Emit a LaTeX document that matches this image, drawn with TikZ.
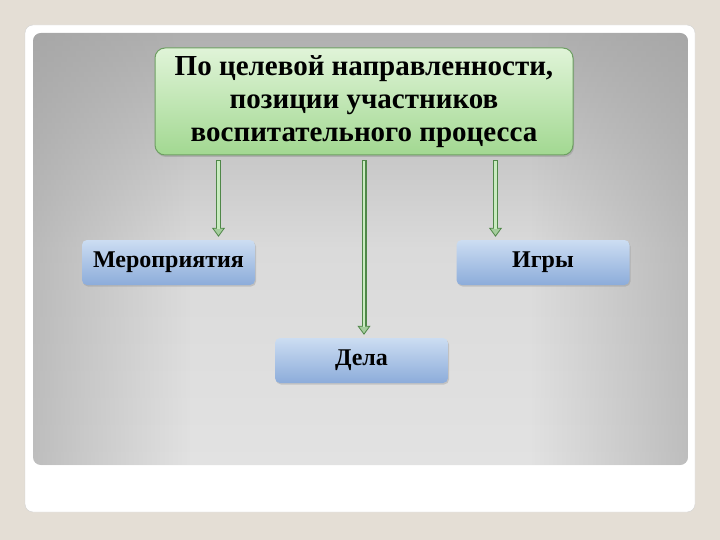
\documentclass[tikz,border=0pt]{standalone}
\usepackage{fontspec}
\setmainfont{Liberation Serif}
\usetikzlibrary{positioning,arrows.meta,shadows,fadings}

\definecolor{bgbeige}{HTML}{E4DED5}
\definecolor{cardedge}{HTML}{D2D2D2}
\definecolor{paneldark}{HTML}{A0A0A0}
\definecolor{paneltop}{HTML}{B0B0B0}
\definecolor{panelmid}{HTML}{DADADA}
\definecolor{panellight}{HTML}{E2E2E2}
\definecolor{headtop}{HTML}{E0F4D8}
\definecolor{headbottom}{HTML}{A2D891}
\definecolor{headedge}{HTML}{6E9F63}
\definecolor{kindtop}{HTML}{CCDDF2}
\definecolor{kindbottom}{HTML}{8CACDA}
\definecolor{arrowdark}{HTML}{4F8748}
\definecolor{arrowlight}{HTML}{C9EBC0}

\tikzset{
    headbox/.style={draw=headedge, line width=1pt, rounded corners=10pt,
        top color=headtop, bottom color=headbottom,
        minimum width=418pt, minimum height=107pt, align=center,
        font=\bfseries\fontsize{29}{33}\selectfont,
        drop shadow={shadow xshift=1pt, shadow yshift=-2pt, opacity=0.35}},
    kindbox/.style={rounded corners=5pt,
        top color=kindtop, bottom color=kindbottom,
        minimum width=173pt, minimum height=45pt, inner sep=0pt,
        font=\bfseries\fontsize{24}{28}\selectfont,
        drop shadow={shadow xshift=1pt, shadow yshift=-1.5pt, opacity=0.3}},
    flow/.style={line width=5pt, draw=arrowdark, shorten <=5pt, shorten >=3pt,
        -{Triangle[length=9pt,width=13pt,line width=0.8pt,fill=arrowlight!70!arrowdark]},
        postaction={draw=arrowlight, line width=2.4pt, -, shorten <=5.5pt, shorten >=11pt}}
}

\begin{document}
\begin{tikzpicture}[x=1pt, y=-1pt]
    % background, card and panel
    \fill[bgbeige] (0,0) rectangle (720,540);
    \useasboundingbox (0,0) rectangle (720,540);
    \draw[cardedge, fill=white, rounded corners=8pt] (25,25) rectangle (695,512);
    \begin{scope}
        \clip[rounded corners=8pt] (33,33) rectangle (688,465);
        \shade[top color=paneltop, bottom color=panellight, middle color=panelmid] (33,33) rectangle (688,465);
        \fill[paneldark, fill opacity=0.55, path fading=east] (33,33) rectangle (190,465);
        \fill[paneldark, fill opacity=0.55, path fading=west] (531,33) rectangle (688,465);
    \end{scope}

    \node[headbox] (head) at (364,101.5){По целевой направленности,\\позиции участников\\воспитательного процесса};
    \node[kindbox] (events) at (168.5,262.5){Мероприятия};
    \node[kindbox] (games) at (543,262.5){Игры};
    \node[kindbox] (deeds) at (361.5,360.5){Дела};

    \draw[flow] ([xshift=64pt]head.south west) -- ([xshift=64pt]head.south west |- events.north);
    \draw[flow] (head.south) -- (head.south |- deeds.north);
    \draw[flow] ([xshift=-78pt]head.south east) -- ([xshift=-78pt]head.south east |- games.north);
\end{tikzpicture}
\end{document}
